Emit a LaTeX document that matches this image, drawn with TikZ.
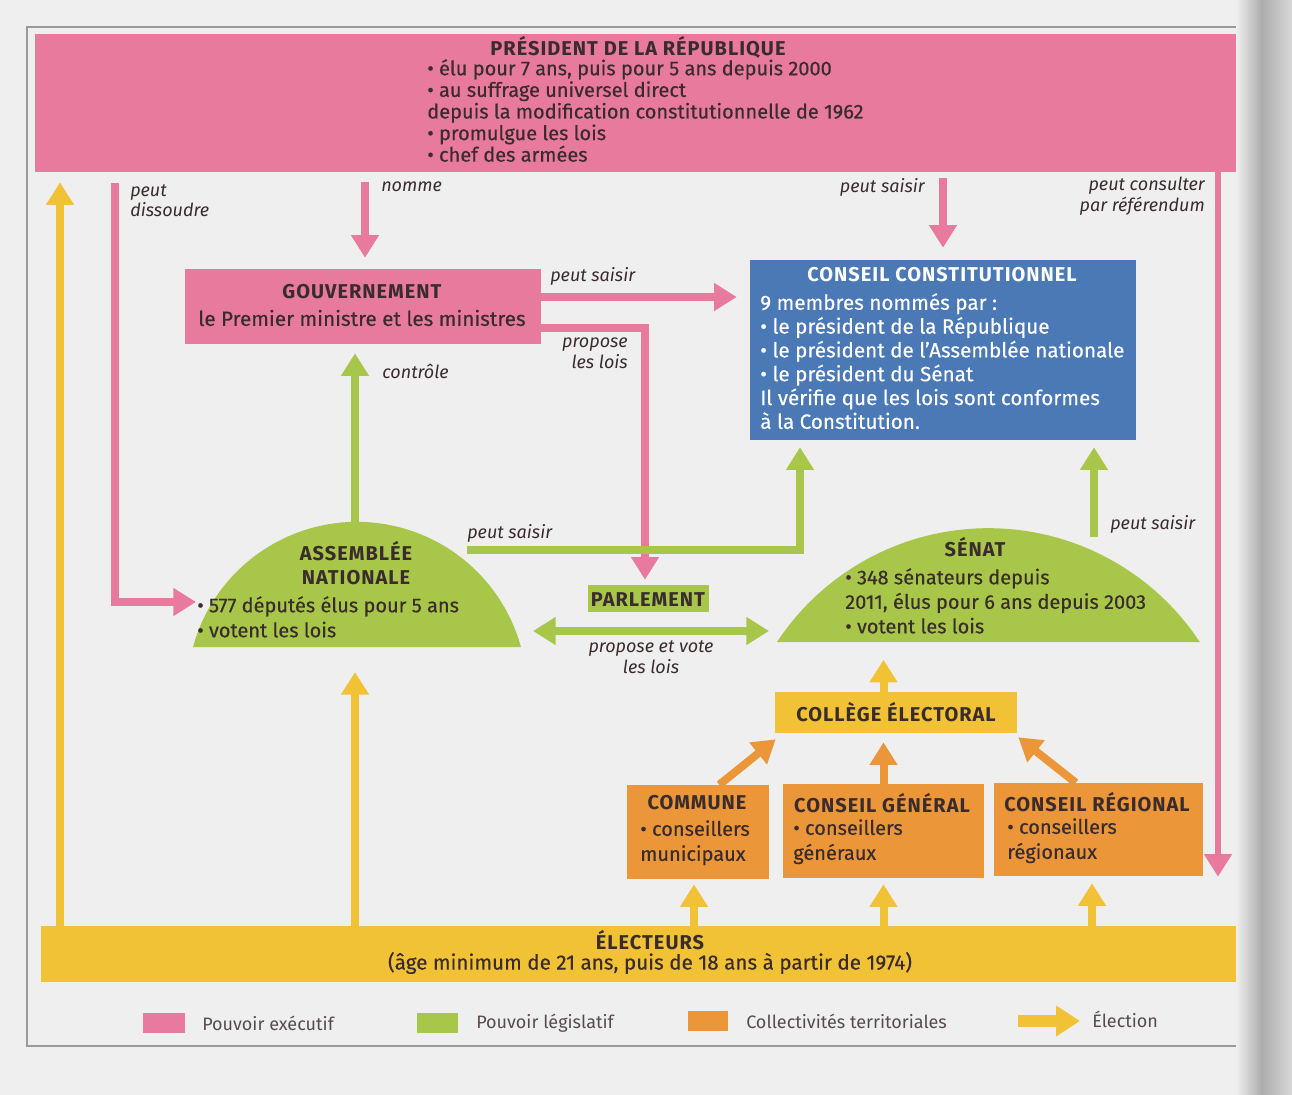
\documentclass[tikz,border=0pt]{standalone}
\usepackage{fontspec}
\setmainfont{Fira Sans}
\newfontfamily\ttlfont[LetterSpace=5]{Fira Sans}
\newfontfamily\bodfont[FakeBold=0.35,Ligatures=TeX]{Fira Sans}
\usetikzlibrary{arrows.meta,fit,calc}
\definecolor{pinkc}{HTML}{E87A9E}
\definecolor{greenc}{HTML}{A8C74A}
\definecolor{bluec}{HTML}{4B79B6}
\definecolor{orangec}{HTML}{EC963A}
\definecolor{yellowc}{HTML}{F1C236}
\definecolor{txt}{HTML}{3A2C2C}
\definecolor{pagebg}{HTML}{EFEFEF}
\definecolor{framec}{HTML}{9A9A9A}
\begin{document}
\begin{tikzpicture}[x=0.75pt,y=-0.75pt,
  every node/.style={inner sep=0pt, text=txt},
  tipst/.style={-{Triangle[width=20pt,length=17pt]}},
  parr/.style={draw=pinkc, line width=6pt, tipst},
  garr/.style={draw=greenc, line width=6pt, tipst},
  yarr/.style={draw=yellowc, line width=6pt, tipst},
  oarr/.style={draw=orangec, line width=6pt, tipst},
  ttl/.style={font=\fontsize{15}{18}\selectfont\ttlfont\bfseries},
  bod/.style={align=left, anchor=north west},
  lab/.style={font=\fontsize{13.5}{15.5}\selectfont\itshape},
  lgd/.style={font=\fontsize{13.5}{15}\selectfont, anchor=west, text=txt!85},
  fbox/.style={inner sep=0pt, draw=none, fill=#1},
]
\useasboundingbox (0,0) rectangle (1292,1095);
\fill[pagebg] (0,0) rectangle (1292,1095);
\draw[framec, line width=0.8pt] (1240,27) -- (27,27) -- (27,1046) -- (1240,1046);

% ---------- boxes ----------
\node[fbox=pinkc, fit={(35,34) (1240,172)}] (pres) {};
\node[ttl] (presT) at (638,47) {PRÉSIDENT DE LA RÉPUBLIQUE};
\node[bod, font=\fontsize{15}{16.2}\selectfont\bodfont] (presB) at (427,59)
  {• élu pour 7 ans, puis pour 5 ans depuis 2000\\• au suffrage universel direct\\depuis la modification constitutionnelle de 1962\\• promulgue les lois\\• chef des armées};

\node[fbox=pinkc, fit={(185,269) (541,344)}] (gouv) {};
\node[ttl] (gouvT) at (362,292) {GOUVERNEMENT};
\node[font=\fontsize{15.5}{16}\selectfont\bodfont] (gouvB) at (362,318) {le Premier ministre et les ministres};

\node[fbox=bluec, fit={(750,260) (1136,440)}] (cc) {};
\node[ttl, text=white] (ccT) at (942,275) {CONSEIL CONSTITUTIONNEL};
\node[bod, text=white, font=\fontsize{15.5}{17.85}\selectfont\bodfont] (ccB) at (760,293)
  {9 membres nommés par :\\• le président de la République\\• le président de l’Assemblée nationale\\• le président du Sénat\\Il vérifie que les lois sont conformes\\à la Constitution.};

% domes
\fill[greenc] (193,647) arc[start angle=195.3, end angle=344.7, radius=170] -- cycle;
\fill[greenc] (777,642) arc[start angle=213.4, end angle=326.6, radius=253.2] -- cycle;

\node[ttl, align=center] (anT) at (356,563) {ASSEMBLÉE\\NATIONALE};
\node[bod, font=\fontsize{15}{18.75}\selectfont\bodfont] (anB) at (197,596) {• 577 députés élus pour 5 ans\\• votent les lois};

\node[ttl] (snT) at (975,547) {SÉNAT};
\node[bod, font=\fontsize{15}{18.4}\selectfont\bodfont] (snB) at (845,568) {• 348 sénateurs depuis\\2011, élus pour 6 ans depuis 2003\\• votent les lois};

\node[fbox=greenc, fit={(588,585) (709,612)}] (parl) {};
\node[ttl] (parlT) at (648,600) {PARLEMENT};
\node[lab, align=center] (pvote) at (651,657) {propose et vote\\les lois};

\node[fbox=yellowc, fit={(775,692) (1017,733)}] (coll) {};
\node[ttl] (collT) at (896,712) {COLLÈGE ÉLECTORAL};

\node[fbox=orangec, fit={(627,785) (769,879)}] (comm) {};
\node[ttl] (commT) at (697,803) {COMMUNE};
\node[bod, font=\fontsize{15}{18.75}\selectfont\bodfont] (commB) at (640,820) {• conseillers\\municipaux};

\node[fbox=orangec, fit={(783,784) (984,878)}] (cg) {};
\node[ttl] (cgT) at (882,803) {CONSEIL GÉNÉRAL};
\node[bod, font=\fontsize{15}{18.75}\selectfont\bodfont] (cgB) at (793,819) {• conseillers\\généraux};

\node[fbox=orangec, fit={(994,783) (1203,876)}] (cr) {};
\node[ttl] (crT) at (1097,802) {CONSEIL RÉGIONAL};
\node[bod, font=\fontsize{15}{18.75}\selectfont\bodfont] (crB) at (1007,818) {• conseillers\\régionaux};

\node[fbox=yellowc, fit={(41,926) (1240,982)}] (elec) {};
\node[ttl] (elecT) at (650,940) {ÉLECTEURS};
\node[font=\fontsize{15.5}{16}\selectfont\bodfont] (elecB) at (650,963) {(âge minimum de 21 ans, puis de 18 ans à partir de 1974)};

% ---------- labels ----------
\node[lab, align=left, anchor=north west] (lDiss) at (130,184) {peut\\dissoudre};
\node[lab, anchor=north west] (lNomme) at (381,182) {nomme};
\node[lab, anchor=north east] (lSaisP) at (925,178) {peut saisir};
\node[lab, align=right, anchor=north east] (lRef) at (1205,177) {peut consulter\\par référendum};
\node[lab, anchor=north west] (lSaisG) at (550,267) {peut saisir};
\node[lab, align=right, anchor=north east] (lProp) at (628,338) {propose\\les lois};
\node[lab, anchor=north west] (lCtrl) at (382,364) {contrôle};
\node[lab, anchor=north west] (lSaisA) at (467,524) {peut saisir};
\node[lab, anchor=north west] (lSaisS) at (1110,515) {peut saisir};

% ---------- coordinates ----------
\coordinate (yl) at (60,0);
\coordinate (dx) at (115,0);
\coordinate (nx) at (365,0);
\coordinate (rx) at (1218,0);
\coordinate (sy) at (0,297);
\coordinate (py) at (0,328);
\coordinate (px) at (645,0);
\coordinate (antop) at (355,523);
\coordinate (anbase) at (355,647);
\coordinate (ansaisir) at (467,550);
\coordinate (cx) at (800,0);
\coordinate (sntop) at (1094,537);
\coordinate (anR) at (533,631);
\coordinate (snL) at (769,631);
\coordinate (c1x) at (694,0);
\coordinate (c3x) at (1092,0);

% ---------- connectors ----------
\draw[yarr] (elec.north -| yl) -- ($(pres.south -| yl)+(0,10)$);
\draw[parr] ($(pres.south -| dx)+(0,11)$) |- ($(anB.west |- 0,602)+(-1,0)$);
\draw[parr] ($(pres.south -| nx)+(0,10)$) -- ($(gouv.north -| nx)+(0,-11)$);
\draw[parr] ($(pres.south -| cc.north)+(0,6)$) -- ($(cc.north)+(0,-12)$);
\draw[parr, line width=5pt] (pres.south -| rx) -- ($(elec.north -| rx)+(0,-49)$);
\draw[parr] (gouv.east |- sy) -- ($(cc.west |- sy)+(-13,0)$);
\draw[parr] (gouv.east |- py) -| ($(parl.north -| px)+(0,-5)$);
\draw[garr] (antop) -- ($(gouv.south -| antop)+(0,9)$);
\draw[garr] (ansaisir) -| ($(cc.south -| cx)+(0,7)$);
\draw[garr] (sntop) -- ($(cc.south -| sntop)+(0,7)$);
\draw[garr, {Triangle[width=20pt,length=17pt]}-{Triangle[width=20pt,length=17pt]}] (anR) -- (snL);
\draw[yarr] (elec.north -| anbase) -- ($(anbase)+(0,25)$);
\draw[yarr] (coll.north -| cg.north) -- ($(coll.north -| cg.north)+(0,-32)$);
\draw[oarr] ($(comm.north east)+(-50,0)$) -- ($(coll.south west)+(1,6)$);
\draw[oarr] (cg.north) -- ($(coll.south -| cg.north)+(0,9)$);
\draw[oarr] ($(cr.north west)+(82,0)$) -- ($(coll.south east)+(1,4)$);
\draw[yarr] (elec.north -| c1x) -- ($(comm.south -| c1x)+(0,5)$);
\draw[yarr] (elec.north -| cg.south) -- ($(cg.south)+(0,6)$);
\draw[yarr] (elec.north -| c3x) -- ($(cr.south -| c3x)+(0,7)$);

% ---------- legend ----------
\node[fbox=pinkc, fit={(143,1013) (185,1033)}] (lg1) {};
\node[lgd] (lg1t) at (202,1023) {Pouvoir exécutif};
\node[fbox=greenc, fit={(417,1013) (458,1033)}] (lg2) {};
\node[lgd] (lg2t) at (476,1023) {Pouvoir législatif};
\node[fbox=orangec, fit={(688,1011) (728,1031)}] (lg3) {};
\node[lgd] (lg3t) at (746,1021) {Collectivités territoriales};
\coordinate (lgA) at (1018,1021);
\node[lgd] (lg4t) at (1092,1019) {Élection};
\draw[draw=yellowc, line width=9pt, -{Triangle[width=22pt,length=18pt]}] (lgA) -- ($(lg4t.west)+(-12,2)$);

% page edge shadow
\shade[left color=pagebg, right color=gray!65] (1236,0) rectangle (1262,1095);
\shade[left color=gray!65, right color=gray!30] (1262,0) rectangle (1292,1095);
\end{tikzpicture}
\end{document}
